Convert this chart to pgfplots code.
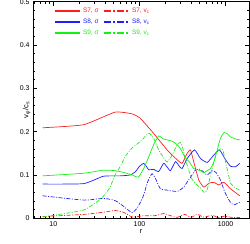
\documentclass[border=0pt]{standalone}
\usepackage{fontspec}
\setmainfont{Liberation Sans}
\usepackage{pgfplots}
\pgfplotsset{compat=1.18}
\definecolor{cR}{RGB}{255,30,30}
\definecolor{cB}{RGB}{30,30,255}
\definecolor{cG}{RGB}{20,240,20}
\begin{document}
\begin{tikzpicture}
\begin{axis}[
  name=ax,
  scale only axis,
  width=216bp, height=216.6bp,
  xmode=log,
  xmin=5.8, xmax=1870,
  ymin=0, ymax=0.5,
  log ticks with fixed point,
  /pgf/number format/1000 sep={},
  ytick={0,0.1,0.2,0.3,0.4,0.5},
  yticklabels={0,0.1,0.2,0.3,0.4,0.5},
  minor y tick num=4,
  tick align=inside,
  major tick length=4bp,
  minor tick length=2bp,
  tick style={black, line width=0.5pt},
  axis line style={black, line width=0.8pt},
  ticks=both,
  xtick pos=both, ytick pos=both,
  /pgf/number format/assume math mode=true,
  tick label style={font=\fontsize{7}{8}\selectfont},
  xlabel={r}, ylabel={v\textsubscript{φ}/c\textsubscript{s}},
  label style={font=\fontsize{7.5}{8}\selectfont},
  xlabel style={at={(axis description cs:0.5,0)}, yshift=-8bp},
  ylabel style={at={(axis description cs:0,0.5)}, yshift=-1bp},
  legend columns=2,
  legend style={at={(axis description cs:0.085,0.99)}, anchor=north west, draw=none, fill=none,
    font=\fontsize{6.5}{7}\selectfont, row sep=1bp,
    /tikz/every even column/.append style={column sep=3bp}},
  legend image code/.code={\draw[#1] (0bp,0bp) -- (25bp,0bp);},
]
\addlegendimage{cR, line width=1.5pt}
\addlegendentry{\textcolor{cR}{S7, σ}}
\addlegendimage{cR, line width=1.5pt, dash pattern=on 7bp off 2bp on 2bp off 2bp}
\addlegendentry{\textcolor{cR}{S7, v\textsubscript{c}}}
\addlegendimage{cB, line width=1.5pt}
\addlegendentry{\textcolor{cB}{S8, σ}}
\addlegendimage{cB, line width=1.5pt, dash pattern=on 7bp off 2bp on 2bp off 2bp}
\addlegendentry{\textcolor{cB}{S8, v\textsubscript{c}}}
\addlegendimage{cG, line width=1.5pt}
\addlegendentry{\textcolor{cG}{S9, σ}}
\addlegendimage{cG, line width=1.5pt, dash pattern=on 7bp off 2bp on 2bp off 2bp}
\addlegendentry{\textcolor{cG}{S9, v\textsubscript{c}}}

% S7 sigma
\addplot[cR, line width=0.7pt, smooth, tension=0.3, forget plot] coordinates {
(7.5,0.209) (22.4,0.216) (52,0.245) (82,0.241) (102,0.231) (146,0.196) (209,0.158)
(274,0.135) (313,0.127) (358,0.150) (391,0.158) (427,0.130) (489,0.088) (559,0.072)
(640,0.081) (730,0.083) (835,0.077) (955,0.083) (1143,0.068) (1460,0.052)};
% S7 vc
\addplot[cR, line width=0.7pt, smooth, tension=0.3, dash pattern=on 4bp off 1.5bp on 1bp off 1.5bp, forget plot] coordinates {
(7.5,0.004) (22.4,0.009) (38,0.014) (52,0.018) (65,0.014) (82,0.003) (95,0.004) (112,0.006)
(150,0.006) (191,0.011) (230,0.006) (273,0.002) (310,0.007) (340,0.009) (375,0.004)
(410,0.003) (450,0.008) (490,0.008) (540,0.003) (590,0.003) (650,0.006) (730,0.006)
(800,0.002) (873,0.002) (960,0.005) (1040,0.004) (1200,0.002) (1460,0.002)};
% S8 sigma
\addplot[cB, line width=0.7pt, smooth, tension=0.3, forget plot] coordinates {
(7.5,0.079) (22.4,0.080) (38,0.097) (60,0.098) (78,0.100) (90,0.108) (100,0.120)
(112,0.127) (120,0.120) (128,0.112) (146,0.113) (167,0.108) (191,0.127) (210,0.118)
(229,0.110) (262,0.131) (290,0.120) (313,0.115) (358,0.138) (436,0.158) (511,0.138)
(612,0.129) (730,0.146) (850,0.158) (1000,0.135) (1143,0.120) (1306,0.119) (1460,0.127)};
% S8 vc
\addplot[cB, line width=0.7pt, smooth, tension=0.3, dash pattern=on 4bp off 1.5bp on 1bp off 1.5bp, forget plot] coordinates {
(7.5,0.052) (22.4,0.042) (38,0.046) (52,0.041) (65,0.028) (82,0.013) (95,0.025) (110,0.050)
(125,0.085) (140,0.103) (155,0.090) (175,0.068) (210,0.065) (274,0.062) (326,0.072)
(392,0.095) (450,0.112) (511,0.113) (560,0.106) (612,0.100) (700,0.110) (780,0.105)
(873,0.088) (960,0.065) (1050,0.048) (1150,0.036) (1250,0.031) (1460,0.037)};
% S9 sigma
\addplot[cG, line width=0.7pt, smooth, tension=0.3, forget plot] coordinates {
(7.5,0.098) (22.4,0.104) (38,0.111) (52,0.110) (65,0.106) (82,0.100) (97,0.095) (112,0.115)
(130,0.145) (146,0.170) (167,0.190) (191,0.183) (240,0.178) (274,0.170) (300,0.160)
(340,0.140) (380,0.130) (427,0.115) (511,0.110) (560,0.105) (610,0.110) (668,0.115)
(730,0.130) (800,0.158) (873,0.185) (960,0.198) (1050,0.195) (1143,0.188) (1300,0.183) (1460,0.181)};
% S9 vc
\addplot[cG, line width=0.7pt, smooth, tension=0.3, dash pattern=on 4bp off 1.5bp on 1bp off 1.5bp, forget plot] coordinates {
(7.5,0.003) (22.4,0.019) (36,0.046) (45,0.070) (52,0.100) (60,0.120) (68,0.142) (78,0.158)
(85,0.165) (102,0.177) (128,0.196) (146,0.185) (167,0.158) (190,0.140) (209,0.130)
(230,0.140) (250,0.154) (275,0.170) (299,0.175) (320,0.160) (343,0.135) (375,0.110)
(408,0.090) (460,0.078) (511,0.070) (560,0.060) (610,0.065) (668,0.100) (730,0.130)
(800,0.155) (873,0.160) (930,0.158) (1000,0.130) (1143,0.081) (1300,0.070) (1460,0.065)};
\end{axis}
\pgfresetboundingbox
\path[use as bounding box] (-33bp,-25.7bp) rectangle (217bp,218.3bp);
\end{tikzpicture}
\end{document}
